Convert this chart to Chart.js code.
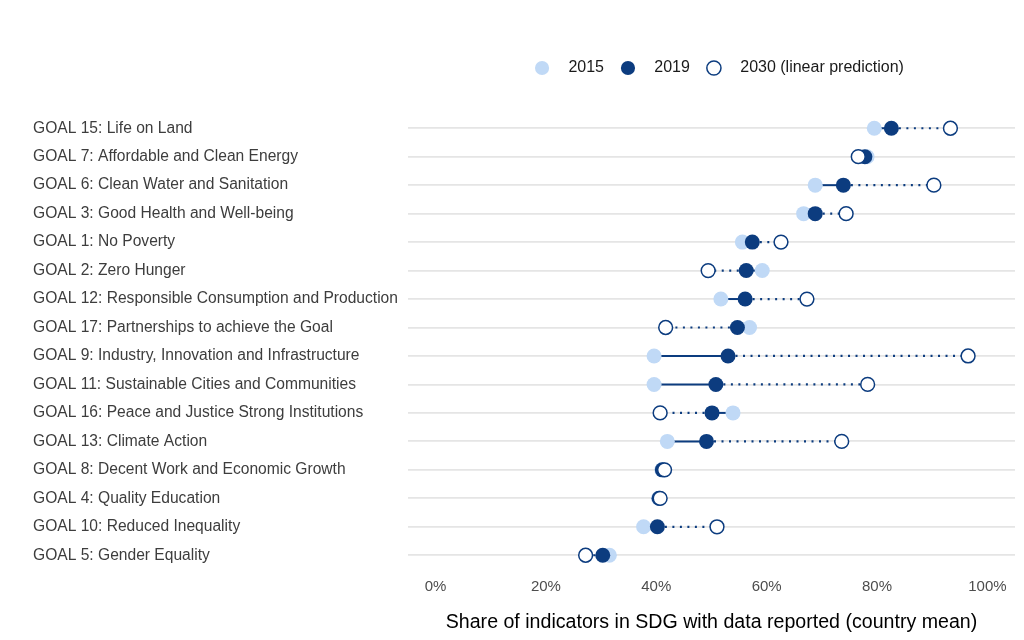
<!DOCTYPE html>
<html>
<head>
<meta charset="utf-8">
<script src="https://cdn.jsdelivr.net/npm/chart.js@4.4.1/dist/chart.umd.min.js"></script>
<style>
html, body { margin: 0; padding: 0; background: #fff; }
#wrap { width: 1024px; height: 640px; position: relative; }
</style>
</head>
<body>
<div id="wrap"><canvas id="sdgChart"></canvas></div>
<script>
var goals = [
	'GOAL 15: Life on Land',
	'GOAL 7: Affordable and Clean Energy',
	'GOAL 6: Clean Water and Sanitation',
	'GOAL 3: Good Health and Well-being',
	'GOAL 1: No Poverty',
	'GOAL 2: Zero Hunger',
	'GOAL 12: Responsible Consumption and Production',
	'GOAL 17: Partnerships to achieve the Goal',
	'GOAL 9: Industry, Innovation and Infrastructure',
	'GOAL 11: Sustainable Cities and Communities',
	'GOAL 16: Peace and Justice Strong Institutions',
	'GOAL 13: Climate Action',
	'GOAL 8: Decent Work and Economic Growth',
	'GOAL 4: Quality Education',
	'GOAL 10: Reduced Inequality',
	'GOAL 5: Gender Equality'
];
var share2015 = [79.5, 78.2, 68.8, 66.7, 55.6, 59.2, 51.7, 56.9, 39.6, 39.6, 53.9, 42.0, 41.0, 40.4, 37.7, 31.5];
var share2019 = [82.6, 77.8, 73.9, 68.8, 57.4, 56.3, 56.1, 54.7, 53.0, 50.8, 50.1, 49.1, 41.1, 40.5, 40.2, 30.3];
var share2030 = [93.3, 76.6, 90.3, 74.4, 62.6, 49.4, 67.3, 41.7, 96.5, 78.3, 40.7, 73.6, 41.5, 40.7, 51.0, 27.2];
var xTickValues = [0, 20, 40, 60, 80, 100];

var lightBlue = '#c0d9f6';
var darkBlue = '#0c3c7f';

// connecting lines: solid 2015 -> 2019, dotted 2019 -> 2030
var connectorPlugin = {
	id: 'connectors',
	beforeDatasetsDraw: function(chart) {
		var ctx = chart.ctx;
		var m15 = chart.getDatasetMeta(0).data;
		var m19 = chart.getDatasetMeta(1).data;
		var m30 = chart.getDatasetMeta(2).data;
		ctx.save();
		ctx.strokeStyle = darkBlue;
		for (var i = 0; i < m19.length; i++) {
			ctx.lineWidth = 2;
			ctx.setLineDash([]);
			ctx.beginPath();
			ctx.moveTo(m15[i].x, m15[i].y);
			ctx.lineTo(m19[i].x, m19[i].y);
			ctx.stroke();
			ctx.lineWidth = 2.2;
			ctx.setLineDash([2, 5.5]);
			ctx.beginPath();
			ctx.moveTo(m19[i].x, m19[i].y);
			ctx.lineTo(m30[i].x, m30[i].y);
			ctx.stroke();
		}
		ctx.restore();
	}
};

// centre the legend over the plot area and leave room below it
var legendPlacePlugin = {
	id: 'legendPlace',
	beforeInit: function(chart) {
		var fit = chart.legend.fit;
		chart.legend.fit = function() {
			fit.bind(chart.legend)();
			this.height += 28;
		};
	},
	afterLayout: function(chart) {
		chart.legend.left = chart.chartArea.left + 9;
		chart.legend.right = chart.chartArea.right + 9;
	}
};

var sdgCtx = document.getElementById('sdgChart');
var sdgChart = new Chart(sdgCtx, {
	type: 'line',
	data: {
		labels: goals,
		datasets: [{
			label: '   2015',
			data: share2015,
			showLine: false,
			pointRadius: 7.5,
			pointHoverRadius: 7.5,
			pointBackgroundColor: lightBlue,
			pointBorderColor: lightBlue,
			pointBorderWidth: 0,
			backgroundColor: lightBlue,
			borderColor: lightBlue,
			order: 3
		}, {
			label: '   2019',
			data: share2019,
			showLine: false,
			pointRadius: 7.5,
			pointHoverRadius: 7.5,
			pointBackgroundColor: darkBlue,
			pointBorderColor: darkBlue,
			pointBorderWidth: 0,
			backgroundColor: darkBlue,
			borderColor: darkBlue,
			order: 2
		}, {
			label: '   2030 (linear prediction)',
			data: share2030,
			showLine: false,
			pointRadius: 6.9,
			pointHoverRadius: 6.9,
			pointBackgroundColor: '#ffffff',
			pointBorderColor: darkBlue,
			pointBorderWidth: 1.5,
			backgroundColor: '#ffffff',
			borderColor: darkBlue,
			borderWidth: 1.5,
			order: 1
		}]
	},
	options: {
		indexAxis: 'y',
		responsive: true,
		maintainAspectRatio: false,
		animation: false,
		layout: { padding: { left: 33, right: 9, top: 41, bottom: 4 } },
		plugins: {
			tooltip: { enabled: false },
			legend: {
				position: 'top',
				align: 'center',
				labels: {
					usePointStyle: true,
					pointStyle: 'circle',
					boxWidth: 10,
					boxHeight: 10,
					padding: 19,
					color: '#1a1a1a',
					font: { family: 'Liberation Sans, Arial, sans-serif', size: 16 },
					sort: function(a, b) { return a.datasetIndex - b.datasetIndex; }
				}
			}
		},
		scales: {
			x: {
				type: 'linear',
				min: -5,
				max: 105,
				afterBuildTicks: function(axis) {
					axis.ticks = xTickValues.map(function(v) { return { value: v }; });
				},
				grid: { display: false, drawTicks: false },
				border: { display: false },
				ticks: {
					padding: 8,
					color: '#4d4d4d',
					font: { family: 'Liberation Sans, Arial, sans-serif', size: 15 },
					callback: function(v) { return v + '%'; }
				},
				title: {
					display: true,
					text: 'Share of indicators in SDG with data reported (country mean)',
					color: '#000000',
					font: { family: 'Liberation Sans, Arial, sans-serif', size: 19.6 },
					padding: { top: 7, bottom: 2 }
				}
			},
			y: {
				type: 'category',
				offset: true,
				grid: { color: '#e5e5e5', lineWidth: 1.8, drawTicks: false, offset: false },
				border: { display: false },
				ticks: {
					crossAlign: 'far',
					padding: 5,
					color: '#3d3d3d',
					font: { family: 'Liberation Sans, Arial, sans-serif', size: 15.6 }
				}
			}
		}
	},
	plugins: [connectorPlugin, legendPlacePlugin]
});
</script>
</body>
</html>
